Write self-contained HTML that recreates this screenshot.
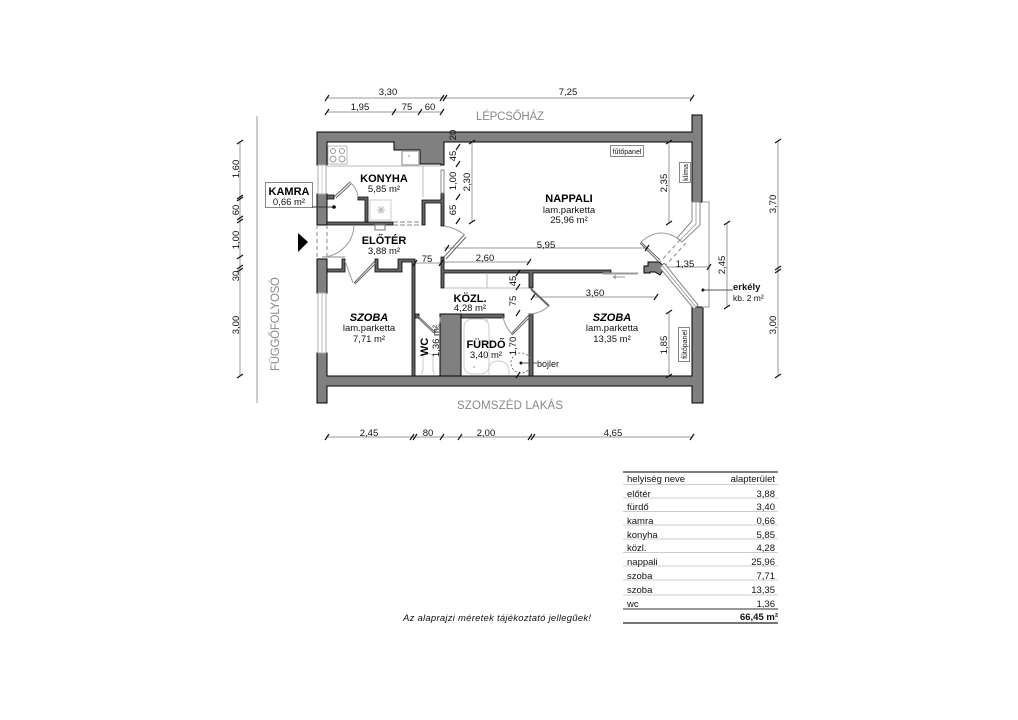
<!DOCTYPE html>
<html><head><meta charset="utf-8"><style>
html,body{margin:0;padding:0;background:#fff}
svg{display:block}
text{font-family:"Liberation Sans",sans-serif;fill:#111;font-size:9.5px}
.c{text-anchor:middle}
.b{font-weight:bold;font-size:11px;text-anchor:middle;fill:#000}
.i{font-style:italic}
.g{fill:#888;font-size:11.5px;text-anchor:middle}
.w{fill:#808080;stroke:#000;stroke-width:1}
.t{fill:#666;stroke:#000;stroke-width:.8}
.l{fill:none;stroke:#999;stroke-width:1}
.f{fill:none;stroke:#bbb;stroke-width:1}
</style></head><body>
<svg width="1018" height="720" viewBox="0 0 1018 720" xmlns="http://www.w3.org/2000/svg">
<rect width="1018" height="720" fill="#fff"/>

<!-- dimension lines -->
<path class="l" d="M327 98H692M327 112H442M240 142V376M257 116V403M327 437H460M460 437H692M778 141V376M472 142V222M669 142V223M444 248H647M444 262H529M415 263H441M665 267H709M727 223V307M533 297H656M669 312V376"/>

<!-- walls -->
<path class="w" d="M317 132H692V115H702V202H692V142H444V165H441V164H420V150H394V142H327V165H317Z"/>
<rect class="w" x="317" y="194" width="10" height="31"/>
<path class="t" d="M327 222H393V225H327Z"/>
<path class="t" d="M327 195H334V199H327Z"/>
<path class="t" d="M358 197H368V222H365V200H358Z"/>
<path class="t" d="M422 200H441V193H444V226H441V203H425V225H422Z"/>
<path class="w" d="M317 259H327V293H317Z"/>
<path class="w" d="M692 307H703V403H692V386H327V403H317V353H327V376H692Z"/>
<path class="t" d="M327 269H342V259H345V272H327Z"/>
<path class="t" d="M375 259H378V269H398V259H415V376H412V262H402V272H375Z"/>
<path class="t" d="M415 314H419V318H415Z"/>
<rect class="w" x="440" y="314" width="21" height="62"/>
<path class="t" d="M461 314H504V318H461Z"/>
<path class="t" d="M441 257H444V270H611V273H533V288H529V273H444V288H441Z"/>
<rect class="t" x="529" y="314" width="4" height="62"/>
<path class="w" d="M644 273V266H648V262H659L665 267L660 275L655 272H650V273Z"/>

<!-- gray room lines -->
<path class="f" d="M327 166H441M423 166V197M444 288H529M487 273V288M487 318V362"/>
<path d="M603 273.5H638" stroke="#999" stroke-width="2" fill="none"/>
<path d="M625 277H613M613 277l3 -1.5M613 277l3 1.5" stroke="#999" fill="none"/>

<!-- windows -->
<rect x="318" y="165" width="8" height="29" fill="#fff" stroke="#aaa"/>
<path d="M322 165V194" stroke="#ccc"/>
<rect x="441" y="170" width="3" height="23" fill="#fff" stroke="#888"/>
<rect x="318" y="293" width="8" height="60" fill="#fff" stroke="#aaa"/>
<path d="M322 293V353" stroke="#bbb"/>
<path d="M692 202H700V225L682 242L677 238L692 221Z" fill="#fff" stroke="#888"/>
<path d="M696 203V224L680 240" stroke="#aaa" fill="none"/>
<path d="M664 263L698 305L694 309L660 268Z" fill="#fff" stroke="#888"/>
<path d="M662 265.500L696 307" stroke="#aaa" fill="none"/>
<path d="M702 202H709V307H702" class="l"/>

<!-- entrance -->
<path d="M317 225V259M327 225V259" stroke="#888" stroke-dasharray="4 3" fill="none"/>
<path d="M393 222H422M393 225H422" stroke="#888" stroke-dasharray="5 2" fill="none"/>
<path d="M322 257H345" stroke="#888" fill="none"/>
<path d="M323 257A33 33 0 0 0 354 225" class="l"/>

<!-- doors -->
<path d="M334 197L350 182M336 198L351 184" stroke="#666" fill="none"/>
<path d="M350 182Q357 188 358 197" class="l"/>
<path d="M444 257L464 235M446 259L466 237" stroke="#666" fill="none"/>
<path d="M465 235Q456 228 444 226" class="l"/>
<path d="M375 261L354 283M377 262L355 284" stroke="#666" fill="none"/>
<path d="M345 261L353 283" class="l"/>
<path d="M417 317L434 333M418 316L435 332" stroke="#666" fill="none"/>
<path d="M434 333Q441 325 440 317" class="l"/>
<path d="M530 314L511 334M531 316L512 335" stroke="#666" fill="none"/>
<path d="M511 333Q505 326 503 317" class="l"/>
<path d="M531 289L549 306" stroke="#666" stroke-width="2" fill="none"/>
<path d="M549 306Q541 313 531 314" class="l"/>
<path d="M660 260L641 242M659 262L640 243" stroke="#666" fill="none"/>
<path d="M641 242Q660 225 680 240" class="l"/>
<path d="M680 240L660 262M686 243L666 265" stroke="#888" stroke-dasharray="4 3" fill="none"/>

<!-- fixtures -->
<rect x="328" y="146" width="19" height="18" fill="#fff" stroke="#bbb"/>
<circle cx="333" cy="151" r="2.500" fill="none" stroke="#999"/>
<circle cx="342" cy="151" r="2.500" fill="none" stroke="#999"/>
<circle cx="333" cy="159" r="3" fill="none" stroke="#999"/>
<circle cx="342" cy="159" r="3" fill="none" stroke="#999"/>
<rect x="402" y="151" width="17" height="14" fill="#fff" stroke="#aaa" stroke-width="1.500"/>
<circle cx="409" cy="156" r="1" fill="#bbb"/>
<rect x="370" y="200" width="21" height="20" fill="#fff" stroke="#ccc"/>
<path d="M377 210h8M381 206v8M378 207l6 6M384 207l-6 6" stroke="#bbb"/>
<rect x="375" y="225" width="10" height="5" fill="#fff" stroke="#777"/>
<rect x="464" y="319" width="25" height="55" rx="8" fill="#fff" stroke="#ccc"/>
<circle cx="474" cy="367" r="1" fill="#bbb"/>
<path d="M489 375V368Q490 361 499 361Q508 362 509 370V375" fill="none" stroke="#ccc"/>
<path d="M422 375V371H423V356Q428 351 433 356V371H434V375" fill="none" stroke="#ccc"/>
<circle cx="521" cy="363" r="10" fill="none" stroke="#777" stroke-dasharray="2 2"/>
<circle cx="521" cy="363" r="1.500" fill="#000"/>
<path d="M521 363H537" stroke="#555"/>
<text x="537" y="367" style="font-size:9px">bojler</text>

<!-- entrance arrow -->
<path d="M298 233L308 242L298 252Z" fill="#000"/>

<!-- ticks -->
<path fill="none" stroke="#111" stroke-width="1.200" d="
M325 101l4-6M440 101l4-6M443 101l4-6M690 101l4-6
M325 115l4-6M392 115l4-6M418 115l4-6M440 115l4-6
M237 144l6-4M237 199l6-4M237 201l6-4M237 220l6-4M237 223l6-4M237 259l6-4M237 269l6-4M237 272l6-4M237 378l6-4
M325 440l4-6M410 440l4-6M413 440l4-6M440 440l4-6M458 440l4-6M528 440l4-6M531 440l4-6M690 440l4-6
M775 143l6-4M775 270l6-4M775 273l6-4M775 378l6-4
M469 144l6-4M469 224l6-4
M456 150l4-6M456 167l4-6M456 200l4-6M456 224l4-6
M666 144l6-4M666 225l6-4
M445 251l4-6M645 251l4-6M527 265l4-6M413 266l4-6M439 266l4-6
M707 270l4-6M724 225l6-4M724 309l6-4
M654 300l4-6M531 300l4-6
M666 314l6-4M666 378l6-4
M516 276l4-6M516 290l4-6M516 316l4-6M516 378l4-6"/>

<!-- dimension text -->
<text class="c" x="388" y="95">3,30</text>
<text class="c" x="568" y="95">7,25</text>
<text class="c" x="360" y="110">1,95</text>
<text class="c" x="407" y="110">75</text>
<text class="c" x="430" y="110">60</text>
<text class="c" x="369" y="436">2,45</text>
<text class="c" x="428" y="436">80</text>
<text class="c" x="486" y="436">2,00</text>
<text class="c" x="613" y="436">4,65</text>
<text class="c" transform="translate(239 169) rotate(-90)">1,60</text>
<text class="c" transform="translate(239 210) rotate(-90)">60</text>
<text class="c" transform="translate(239 240) rotate(-90)">1,00</text>
<text class="c" transform="translate(239 276) rotate(-90)">30</text>
<text class="c" transform="translate(239 325) rotate(-90)">3,00</text>
<text class="c" transform="translate(776 204) rotate(-90)">3,70</text>
<text class="c" transform="translate(776 325) rotate(-90)">3,00</text>
<text class="c" transform="translate(456 135) rotate(-90)">20</text>
<text class="c" transform="translate(456 156) rotate(-90)">45</text>
<text class="c" transform="translate(456 181) rotate(-90)">1,00</text>
<text class="c" transform="translate(456 210) rotate(-90)">65</text>
<text class="c" transform="translate(470 182) rotate(-90)">2,30</text>
<text class="c" transform="translate(667 183) rotate(-90)">2,35</text>
<text class="c" transform="translate(725 265) rotate(-90)">2,45</text>
<text class="c" transform="translate(667 345) rotate(-90)">1,85</text>
<text class="c" transform="translate(516 281) rotate(-90)">45</text>
<text class="c" transform="translate(516 301) rotate(-90)">75</text>
<text class="c" transform="translate(516 346) rotate(-90)">1,70</text>
<text class="c" x="546" y="248">5,95</text>
<text class="c" x="485" y="261">2,60</text>
<text class="c" x="427" y="262">75</text>
<text class="c" x="685" y="267">1,35</text>
<text class="c" x="595" y="296">3,60</text>

<!-- room labels -->
<text class="g" x="510" y="120" textLength="68" lengthAdjust="spacing">LÉPCSŐHÁZ</text>
<text class="g" x="510" y="409" textLength="106" lengthAdjust="spacing">SZOMSZÉD LAKÁS</text>
<text class="g" transform="translate(279 324) rotate(-90)" textLength="94" lengthAdjust="spacing">FÜGGŐFOLYOSÓ</text>

<text class="b" x="384" y="182">KONYHA</text>
<text class="c" x="384" y="192">5,85 m²</text>
<rect x="265.500" y="182.500" width="47" height="25" fill="#fff" stroke="#888"/>
<text class="b" x="289" y="195">KAMRA</text>
<text class="c" x="289" y="205">0,66 m²</text>
<path d="M312 207H334" stroke="#333"/>
<circle cx="334" cy="207" r="1.800" fill="#000"/>
<text class="b" x="384" y="244">ELŐTÉR</text>
<text class="c" x="384" y="254">3,88 m²</text>
<text class="b i" x="369" y="321">SZOBA</text>
<text class="c" x="369" y="331">lam.parketta</text>
<text class="c" x="369" y="342">7,71 m²</text>
<text class="b" transform="translate(428 347) rotate(-90)">WC</text>
<text class="c" transform="translate(439 341) rotate(-90)">1,36 m²</text>
<text class="b" x="470" y="302">KÖZL.</text>
<text class="c" x="470" y="311">4,28 m²</text>
<text class="b" x="486" y="348">FÜRDŐ</text>
<text class="c" x="486" y="358">3,40 m²</text>
<text class="b" x="569" y="202">NAPPALI</text>
<text class="c" x="569" y="213">lam.parketta</text>
<text class="c" x="569" y="223">25,96 m²</text>
<text class="b i" x="612" y="321">SZOBA</text>
<text class="c" x="612" y="331">lam.parketta</text>
<text class="c" x="612" y="342">13,35 m²</text>

<rect x="610.500" y="145.500" width="33" height="11" fill="#fff" stroke="#888"/>
<text class="c" x="627" y="154" style="font-size:7px">fűtőpanel</text>
<rect x="679.500" y="162.500" width="11" height="20" fill="#fff" stroke="#888"/>
<text class="c" transform="translate(688 172.500) rotate(-90)" style="font-size:7px">klíma</text>
<rect x="678.500" y="327.500" width="11" height="34" fill="#fff" stroke="#888"/>
<text class="c" transform="translate(687 344.500) rotate(-90)" style="font-size:7px">fűtőpanel</text>

<circle cx="703" cy="290" r="1.500" fill="#000"/>
<path d="M703 290H733" stroke="#555"/>
<text x="733" y="290" style="font-weight:bold;font-size:9.500px">erkély</text>
<text x="733" y="301" style="font-size:8.500px">kb. 2 m²</text>

<!-- table -->
<path d="M623 472H778" stroke="#555" stroke-width="1.500"/>
<path d="M623 484.500H778M623 498H778M623 511.500H778M623 525H778M623 539H778M623 552.500H778M623 566H778M623 580H778M623 595H778" stroke="#ccc"/>
<path d="M623 609H778" stroke="#777" stroke-width="1.500"/>
<path d="M623 623H778" stroke="#222" stroke-width="1.200"/>
<g style="font-size:9px">
<text x="627" y="482">helyiség neve</text><text x="775" y="482" text-anchor="end">alapterület</text>
<text x="627" y="497">előtér</text><text x="775" y="497" text-anchor="end">3,88</text>
<text x="627" y="510">fürdő</text><text x="775" y="510" text-anchor="end">3,40</text>
<text x="627" y="524">kamra</text><text x="775" y="524" text-anchor="end">0,66</text>
<text x="627" y="538">konyha</text><text x="775" y="538" text-anchor="end">5,85</text>
<text x="627" y="551">közl.</text><text x="775" y="551" text-anchor="end">4,28</text>
<text x="627" y="565">nappali</text><text x="775" y="565" text-anchor="end">25,96</text>
<text x="627" y="579">szoba</text><text x="775" y="579" text-anchor="end">7,71</text>
<text x="627" y="593">szoba</text><text x="775" y="593" text-anchor="end">13,35</text>
<text x="627" y="607">wc</text><text x="775" y="607" text-anchor="end">1,36</text>
<text x="778" y="620" text-anchor="end" style="font-weight:bold;font-size:9.500px">66,45 m²</text>
</g>
<text class="i" x="403" y="621" textLength="188" lengthAdjust="spacing" style="font-size:9.500px">Az alaprajzi méretek tájékoztató jellegűek!</text>
</svg>
</body></html>
